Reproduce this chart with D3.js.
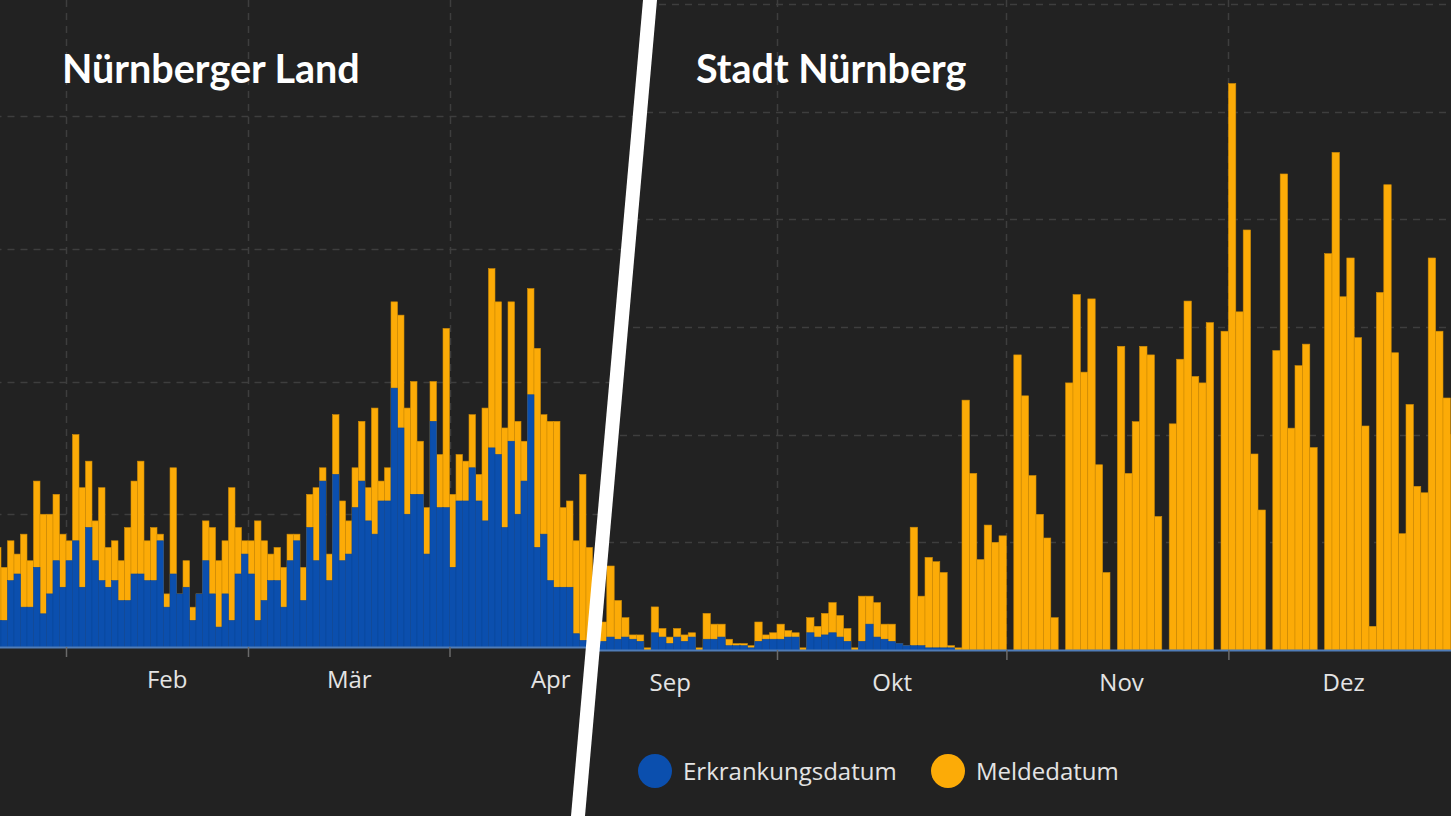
<!DOCTYPE html>
<html><head><meta charset="utf-8">
<script src="https://cdn.jsdelivr.net/npm/d3@7"></script>
<style>html,body{margin:0;padding:0;background:#222;overflow:hidden}</style>
</head><body><svg id="c" width="1451" height="816"></svg>
<script>
// ---------- DATA ----------
const titles = ["Nürnberger Land", "Stadt Nürnberg"];
const legendLabels = ["Erkrankungsdatum", "Meldedatum"];

// Left panel: Nürnberger Land, daily values starting 2021-01-21
const leftStart = "2021-01-21";
const leftMelde = [15,12,16,14,17,13,25,20,20,23,17,
  16,32,24,28,19,24,15,16,13,18,25,28,16,18,17,8,27,8,13,6,8,19,18,13,16,24,18,16,
  16,19,16,14,15,12,17,17,12,23,24,27,14,35,22,19,27,34,24,36,25,27,52,50,36,40,31,21,40,29,48,
  23,29,28,35,26,36,57,52,33,52,34,31,54,45,35,34,34,21,22,16,26,15];
const leftErkrankung = [4,4,10,11,6,6,12,5,8,13,9,
  13,16,9,18,13,10,9,10,7,7,11,11,10,10,16,6,11,8,9,4,8,13,8,3,8,4,11,14,
  11,4,7,10,10,6,13,16,7,18,13,25,10,26,13,14,21,25,19,17,22,22,39,33,20,23,23,14,34,21,21,
  12,22,22,27,22,19,30,29,18,31,20,25,38,15,17,10,9,9,9,2,1,1];
const leftTickDates = ["2021-02-01", "2021-03-01", "2021-04-01"];
const leftLabelDates = ["2021-02-16T12:00Z", "2021-03-16T12:00Z", "2021-04-16T12:00Z"];
const leftMonths = ["Feb", "Mär", "Apr"];
const leftGrid = [20, 40, 60, 80];

// Right panel: Stadt Nürnberg, daily values starting 2020-09-06
const rightStart = "2020-09-06";
const rightMelde = [10,13,39,23,15,7,7,1,20,10,6,10,7,8,1,17,12,12,5,3,3,2,13,7,8,
  12,9,8,1,15,11,17,22,16,10,1,25,25,22,12,12,3,2,57,25,43,41,36,2,1,116,82,42,58,50,53,
  0,137,118,81,63,52,15,0,124,165,129,163,86,36,0,141,82,106,141,137,62,0,105,135,162,127,124,152,0,148,
  263,157,195,91,65,0,139,221,103,132,142,94,0,184,231,164,182,145,104,11,166,216,138,54,114,76,73,182,148,117,100];
const rightErkrankung = [4,4,6,5,6,5,4,0,8,6,3,6,4,6,0,5,5,6,2,2,2,1,4,5,5,
  5,6,6,0,8,6,7,8,6,4,0,4,12,6,5,4,3,2,2,2,1,1,1,1,0,0,0,0,0,0,0,
  0,0,0,0,0,0,0,0,0,0,0,0,0,0,0,0,0,0,0,0,0,0,0,0,0,0,0,0,0,0,
  0,0,0,0,0,0,0,0,0,0,0,0,0,0,0,0,0,0,0,0,0,0,0,0,0,0,0,0,0,0,0];
const rightTickDates = ["2020-10-01", "2020-11-01", "2020-12-01"];
const rightLabelDates = ["2020-09-16T12:00Z", "2020-10-16T12:00Z", "2020-11-16T12:00Z", "2020-12-16T12:00Z"];
const rightMonths = ["Sep", "Okt", "Nov", "Dez"];
const rightGrid = [50, 100, 150, 200, 250, 300];

// ---------- STYLE ----------
const BG = "#222222", BLUE = "#0b4fae", ORANGE = "#fcab07";
const svg = d3.select("#c");
svg.append("rect").attr("width", 1451).attr("height", 816).attr("fill", BG);

const defs = svg.append("defs");
defs.append("clipPath").attr("id", "clipL").append("polygon")
  .attr("points", "0,0 650,0 578,816 0,816");
defs.append("clipPath").attr("id", "clipR").append("polygon")
  .attr("points", "650,0 1451,0 1451,816 578,816");

function panel(opts) {
  const g = svg.append("g").attr("clip-path", `url(#${opts.clip})`);
  const x = d3.scaleUtc().domain(opts.xDomain.map(d => new Date(d))).range(opts.xRange);
  const y = d3.scaleLinear().domain(opts.yDomain).range(opts.yRange);
  const start = new Date(opts.start + "T00:00Z");
  const data = opts.melde.map((m, i) => ({
    date: d3.utcDay.offset(start, i), melde: m, erk: opts.erk[i]
  }));

  g.append("g").selectAll("line").data(opts.grid).join("line")
    .attr("x1", opts.xRange[0]).attr("x2", opts.xRange[1])
    .attr("y1", d => Math.round(y(d)) + 0.5).attr("y2", d => Math.round(y(d)) + 0.5)
    .attr("stroke", "#3e3e3e").attr("stroke-width", 1.5).attr("stroke-dasharray", "7,6");
  g.append("g").selectAll("line").data(opts.ticks).join("line")
    .attr("x1", d => Math.round(x(new Date(d))) + 0.5).attr("x2", d => Math.round(x(new Date(d))) + 0.5)
    .attr("y1", 0).attr("y2", y(0))
    .attr("stroke", "#3e3e3e").attr("stroke-width", 1.5).attr("stroke-dasharray", "7,6");

  const bw = d => x(d3.utcDay.offset(d.date, 1)) - x(d.date);
  g.append("g").selectAll("rect").data(data).join("rect")
    .attr("x", d => x(d.date)).attr("width", bw)
    .attr("y", d => y(d.melde)).attr("height", d => y(0) - y(d.melde))
    .attr("fill", ORANGE).attr("stroke", "#d08c06").attr("stroke-width", 0.6);
  g.append("g").selectAll("rect").data(data.filter(d => d.erk > 0)).join("rect")
    .attr("x", d => x(d.date)).attr("width", bw)
    .attr("y", d => y(d.erk)).attr("height", d => y(0) - y(d.erk))
    .attr("fill", BLUE).attr("stroke", "#0a4699").attr("stroke-width", 0.6);

  const ax = g.append("g").attr("transform", `translate(0,${y(0)})`)
    .call(d3.axisBottom(x).tickValues(opts.ticks.map(d => new Date(d)))
      .tickFormat("").tickSize(10).tickSizeOuter(0));
  ax.select(".domain").attr("stroke", "#4f7cb8").attr("stroke-width", 2);
  ax.selectAll(".tick line").attr("stroke", "#6a6a6a").attr("stroke-width", 1.5);

  const lab = g.append("g").attr("transform", `translate(0,${y(0)})`)
    .call(d3.axisBottom(x).tickValues(opts.labelDates.map(d => new Date(d)))
      .tickFormat((d, i) => opts.months[i]).tickSize(0));
  lab.select(".domain").remove();
  lab.selectAll("text").attr("y", 41).attr("dy", 0)
    .attr("fill", "#e4e4e4").style("font-family", "'Open Sans', sans-serif").style("font-size", "24px");

  svg.append("text").attr("x", opts.titleX).attr("y", 83).text(opts.title)
    .attr("fill", "#ffffff").style("font-family", "Lato, sans-serif")
    .style("font-weight", 700).style("font-size", "39.5px");
}

panel({
  clip: "clipL", start: leftStart, melde: leftMelde, erk: leftErkrankung,
  xDomain: ["2021-01-01", "2021-05-01"], xRange: [66 - 31 * 6.5, 66 + 89 * 6.5],
  yDomain: [0, 80], yRange: [647, 116], grid: leftGrid,
  ticks: leftTickDates, labelDates: leftLabelDates, months: leftMonths,
  title: titles[0], titleX: 62
});
panel({
  clip: "clipR", start: rightStart, melde: rightMelde, erk: rightErkrankung,
  xDomain: ["2020-09-01", "2021-01-01"], xRange: [555, 555 + 122 * 7.4],
  yDomain: [0, 300], yRange: [650, 650 - 300 * 2.154], grid: rightGrid,
  ticks: rightTickDates, labelDates: rightLabelDates, months: rightMonths,
  title: titles[1], titleX: 696
});

const legend = svg.append("g");
const legendItems = [{ label: legendLabels[0], color: BLUE, cx: 655 }, { label: legendLabels[1], color: ORANGE, cx: 948 }];
legend.selectAll("circle").data(legendItems).join("circle")
  .attr("cx", d => d.cx).attr("cy", 771).attr("r", 17).attr("fill", d => d.color);
legend.selectAll("text").data(legendItems).join("text")
  .attr("x", d => d.cx + 28).attr("y", 780).text(d => d.label)
  .attr("fill", "#e4e4e4").style("font-family", "'Open Sans', sans-serif").style("font-size", "24px");

svg.append("polygon").attr("points", "643,0 657,0 585,816 571,816").attr("fill", "#ffffff");
</script></body></html>
